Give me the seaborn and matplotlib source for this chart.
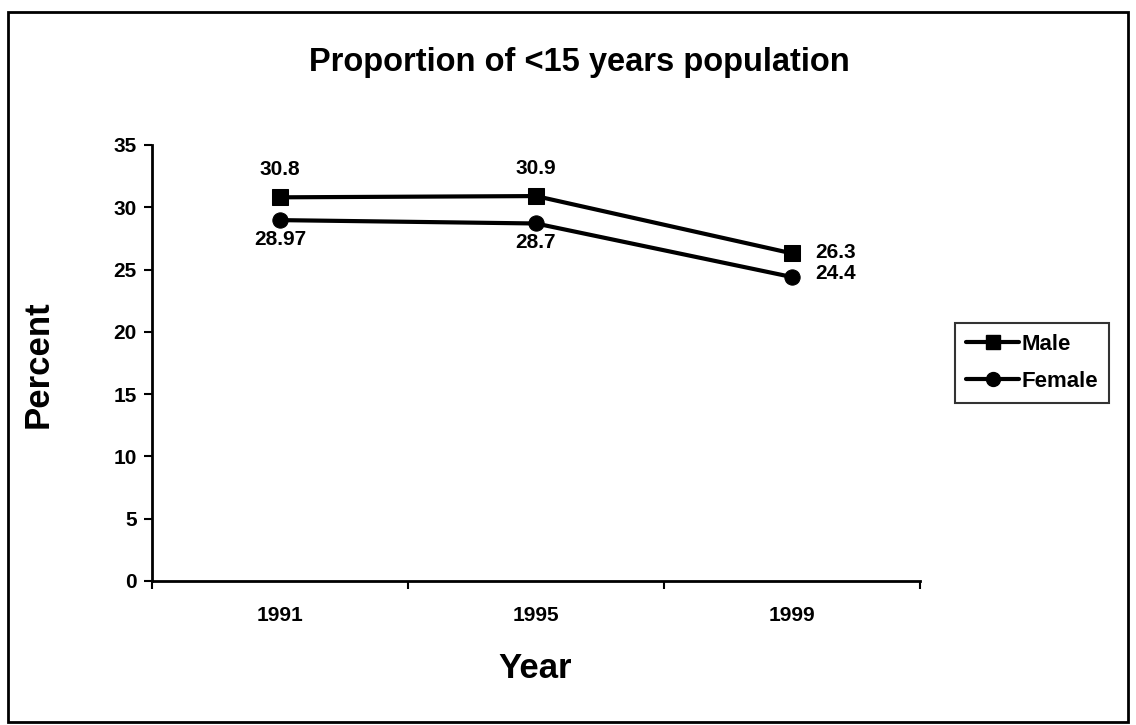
import matplotlib
matplotlib.use("Agg")
import matplotlib.pyplot as plt
import seaborn as sns
import pandas as pd
from matplotlib.patches import Rectangle
from matplotlib.lines import Line2D

years = ["1991", "1995", "1999"]
male = [30.8, 30.9, 26.3]
female = [28.97, 28.7, 24.4]
male_labels = ["30.8", "30.9", "26.3"]
female_labels = ["28.97", "28.7", "24.4"]
yticks = [0, 5, 10, 15, 20, 25, 30, 35]

sns.set_style("white")
plt.rcParams['font.family'] = ['Liberation Sans', 'DejaVu Sans']
plt.rcParams['text.color'] = 'black'
plt.rcParams['xtick.color'] = 'black'
plt.rcParams['ytick.color'] = 'black'

df = pd.DataFrame({
    "pos": list(range(len(years))) * 2,
    "value": male + female,
    "series": ["Male"] * len(years) + ["Female"] * len(years),
})

fig = plt.figure(figsize=(11.36, 7.25), dpi=100)
ax = fig.add_axes([152/1136, 1 - 581/725, 768/1136, (581 - 145)/725])

sns.lineplot(data=df, x="pos", y="value", hue="series", style="series",
             markers={"Male": "s", "Female": "o"}, dashes=False,
             palette={"Male": "black", "Female": "black"},
             linewidth=3, markersize=11, markeredgecolor="black",
             ax=ax, legend=False)

ax.set_xlim(-0.5, 2.5)
ax.set_ylim(0, 35)
ax.set_yticks(yticks)
ax.set_yticklabels([str(v) for v in yticks], fontsize=15, fontweight="bold")
ax.set_xticks([-0.5, 0.5, 1.5, 2.5])
ax.set_xticklabels([])
ax.set_xticks(range(len(years)), minor=True)
ax.set_xticklabels(years, minor=True, fontsize=15, fontweight="bold")
ax.tick_params(axis="x", which="minor", length=0, pad=18)
ax.tick_params(axis="x", which="major", direction="out", length=6, width=1.5, color="black", bottom=True)
ax.tick_params(axis="y", direction="out", length=6, width=1.5, color="black", left=True, pad=5)
for s in ["top", "right"]:
    ax.spines[s].set_visible(False)
for s in ["left", "bottom"]:
    ax.spines[s].set_color("black")
    ax.spines[s].set_linewidth(2)

ax.set_xlabel("")
ax.set_ylabel("")

# data labels
lbl_fs = 15
ax.text(0, male[0] + 2.2, male_labels[0], ha="center", va="center", fontsize=lbl_fs, fontweight="bold")
ax.text(1, male[1] + 2.2, male_labels[1], ha="center", va="center", fontsize=lbl_fs, fontweight="bold")
ax.text(2.09, male[2] + 0.1, male_labels[2], ha="left", va="center", fontsize=lbl_fs, fontweight="bold")
ax.text(0, female[0] - 1.55, female_labels[0], ha="center", va="center", fontsize=lbl_fs, fontweight="bold")
ax.text(1, female[1] - 1.55, female_labels[1], ha="center", va="center", fontsize=lbl_fs, fontweight="bold")
ax.text(2.09, female[2] + 0.3, female_labels[2], ha="left", va="center", fontsize=lbl_fs, fontweight="bold")

fig.text(579/1136, 1 - 62/725, "Proportion of <15 years population", ha="center", va="center",
         fontsize=23.5, fontweight="bold")
fig.text(38/1136, 1 - 364/725, "Percent", ha="center", va="center", rotation=90,
         fontsize=25, fontweight="bold")
fig.text(535/1136, 1 - 668/725, "Year", ha="center", va="center",
         fontsize=25, fontweight="bold")

# legend box
handles = [Line2D([], [], color="black", lw=3, marker="s", markersize=10),
           Line2D([], [], color="black", lw=3, marker="o", markersize=10)]
leg = fig.legend(handles, ["Male", "Female"], loc="center",
                 bbox_to_anchor=(1032/1136, 1 - 363/725), frameon=True, fancybox=False,
                 edgecolor="black", prop={"size": 16, "weight": "bold"},
                 handlelength=2.4, handletextpad=0.1,
                 borderpad=0.5, labelspacing=0.7, borderaxespad=0)
leg.get_frame().set_linewidth(1.5)
for t in leg.get_texts():
    t.set_color("black")

# outer frame
fig.patches.append(Rectangle((8/1136, 1 - 722/725), (1128 - 8)/1136, (722 - 12)/725,
                             transform=fig.transFigure, fill=False, edgecolor="black", linewidth=2))

fig.savefig("out.png", dpi=100)
